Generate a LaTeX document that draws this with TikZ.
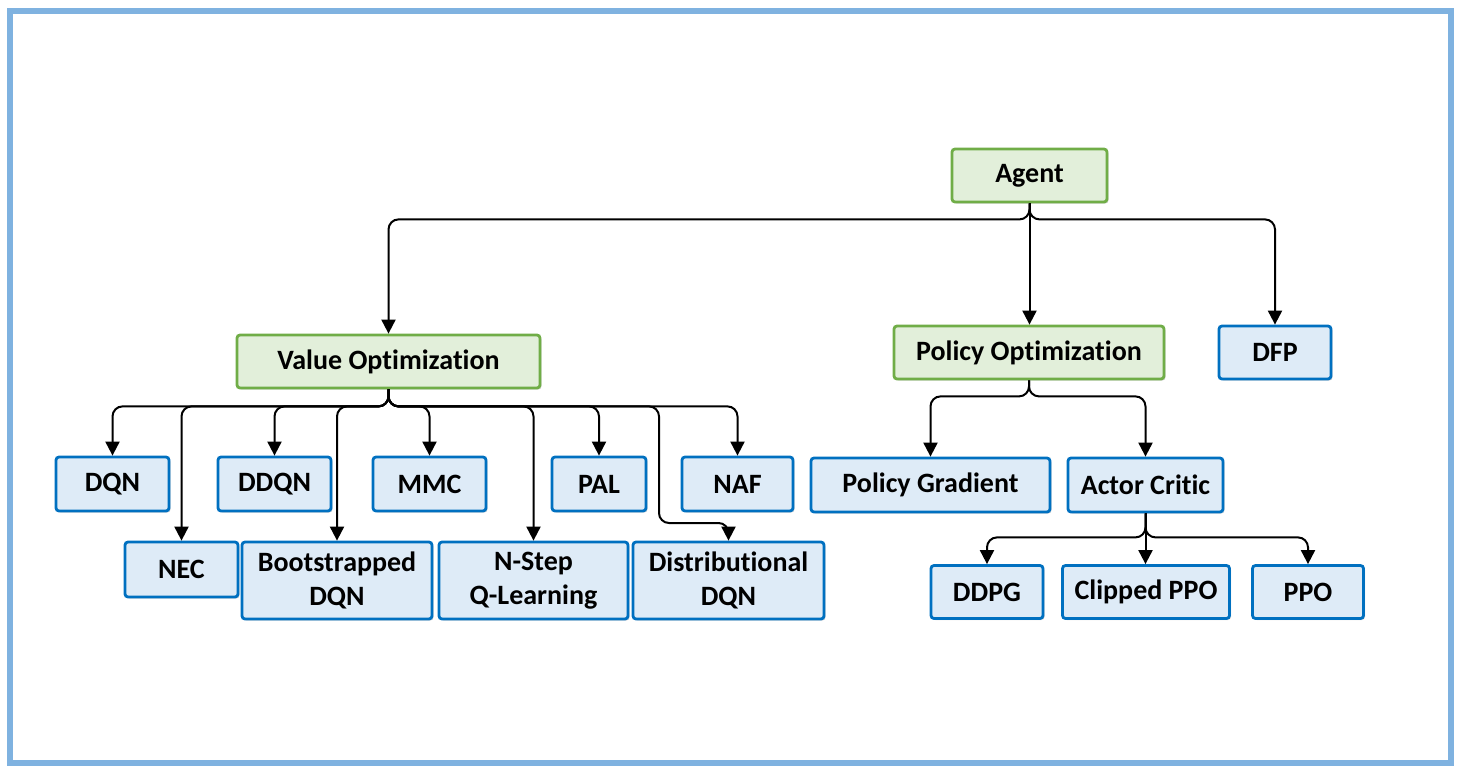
\documentclass[tikz,border=0pt]{standalone}
\usepackage{fontspec}
\setmainfont{Carlito}[Ligatures=NoCommon]
\usetikzlibrary{arrows.meta,shadows}
\definecolor{frameblue}{RGB}{127,178,224}
\definecolor{boxblue}{RGB}{0,112,192}
\definecolor{fillblue}{RGB}{222,235,247}
\definecolor{boxgreen}{RGB}{112,173,71}
\definecolor{fillgreen}{RGB}{226,239,218}
\tikzset{
  basebox/.style={line width=2.8pt, rounded corners=3pt, inner sep=0pt, align=center,
    font=\fontsize{28}{34}\selectfont\bfseries,
    drop shadow={shadow xshift=1.5pt, shadow yshift=-1.5pt, opacity=0.25, fill=black!60}},
  bluebox/.style={basebox, draw=boxblue, fill=fillblue},
  greenbox/.style={basebox, draw=boxgreen, fill=fillgreen},
  conn/.style={line width=2pt, rounded corners=10pt, -{Triangle[width=14pt,length=14pt]}},
}
\begin{document}
\begin{tikzpicture}[x=1pt,y=-1pt]
\useasboundingbox (0,0) rectangle (1460,772);
\draw[frameblue, line width=6pt] (10,11) rectangle (1451,763);

% top level
\node[greenbox, minimum width=155pt, minimum height=53pt] (agent) at (1029.5,175.5) {Agent};
\node[greenbox, minimum width=303pt, minimum height=53pt] (vo) at (388.5,361.5) {Value Optimization};
\node[greenbox, minimum width=270pt, minimum height=53pt] (po) at (1029,352.5) {Policy Optimization};
\node[bluebox, minimum width=112pt, minimum height=53pt] (dfp) at (1275,352.5) {DFP};

% value optimization children
\node[bluebox, minimum width=113pt, minimum height=54pt] (dqn) at (112.5,484) {DQN};
\node[bluebox, minimum width=113pt, minimum height=54pt] (ddqn) at (274.5,484) {DDQN};
\node[bluebox, minimum width=113pt, minimum height=54pt] (mmc) at (429.5,484) {MMC};
\node[bluebox, minimum width=94pt, minimum height=54pt] (pal) at (599,484) {PAL};
\node[bluebox, minimum width=111pt, minimum height=54pt] (naf) at (737.5,484) {NAF};
\node[bluebox, minimum width=113pt, minimum height=55pt] (nec) at (181.5,569.5) {NEC};
\node[bluebox, minimum width=190pt, minimum height=77pt] (boot) at (337,580.5) {Bootstrapped\\DQN};
\node[bluebox, minimum width=189pt, minimum height=77pt] (nstep) at (533.5,580.5) {N-Step\\Q-Learning};
\node[bluebox, minimum width=191pt, minimum height=77pt] (dist) at (728.5,580.5) {Distributional\\DQN};

% policy optimization children
\node[bluebox, minimum width=239pt, minimum height=54pt] (pg) at (930.5,485) {Policy Gradient};
\node[bluebox, minimum width=155pt, minimum height=54pt] (ac) at (1145.5,485) {Actor Critic};
\node[bluebox, minimum width=112pt, minimum height=53pt] (ddpg) at (987,592) {DDPG};
\node[bluebox, minimum width=167pt, minimum height=53pt] (cppo) at (1146,592) {Clipped PPO};
\node[bluebox, minimum width=111pt, minimum height=53pt] (ppo) at (1308,592) {PPO};

% connectors from Agent
\draw[conn] (agent.south) -- ++(0,16) -| (vo.north);
\draw[conn] (agent.south) -- (agent.south |- po.north);
\draw[conn] (agent.south) -- ++(0,16) -| (dfp.north);

% connectors from Value Optimization
\coordinate (dbend) at (659,523);
\foreach \c in {dqn,nec,ddqn,boot,mmc,nstep,pal,naf}{
  \draw[conn] (vo.south) -- ++(0,17) -| (\c.north);
}
\draw[conn] (vo.south) -- ++(0,17) -| (dbend) -| (dist.north);

% connectors from Policy Optimization
\draw[conn] (po.south) -- ++(0,16) -| (pg.north);
\draw[conn] (po.south) -- ++(0,16) -| (ac.north);

% connectors from Actor Critic
\draw[conn] (ac.south) -- ++(0,24) -| (ddpg.north);
\draw[conn] (ac.south) -- (ac.south |- cppo.north);
\draw[conn] (ac.south) -- ++(0,24) -| (ppo.north);
\end{tikzpicture}
\end{document}
